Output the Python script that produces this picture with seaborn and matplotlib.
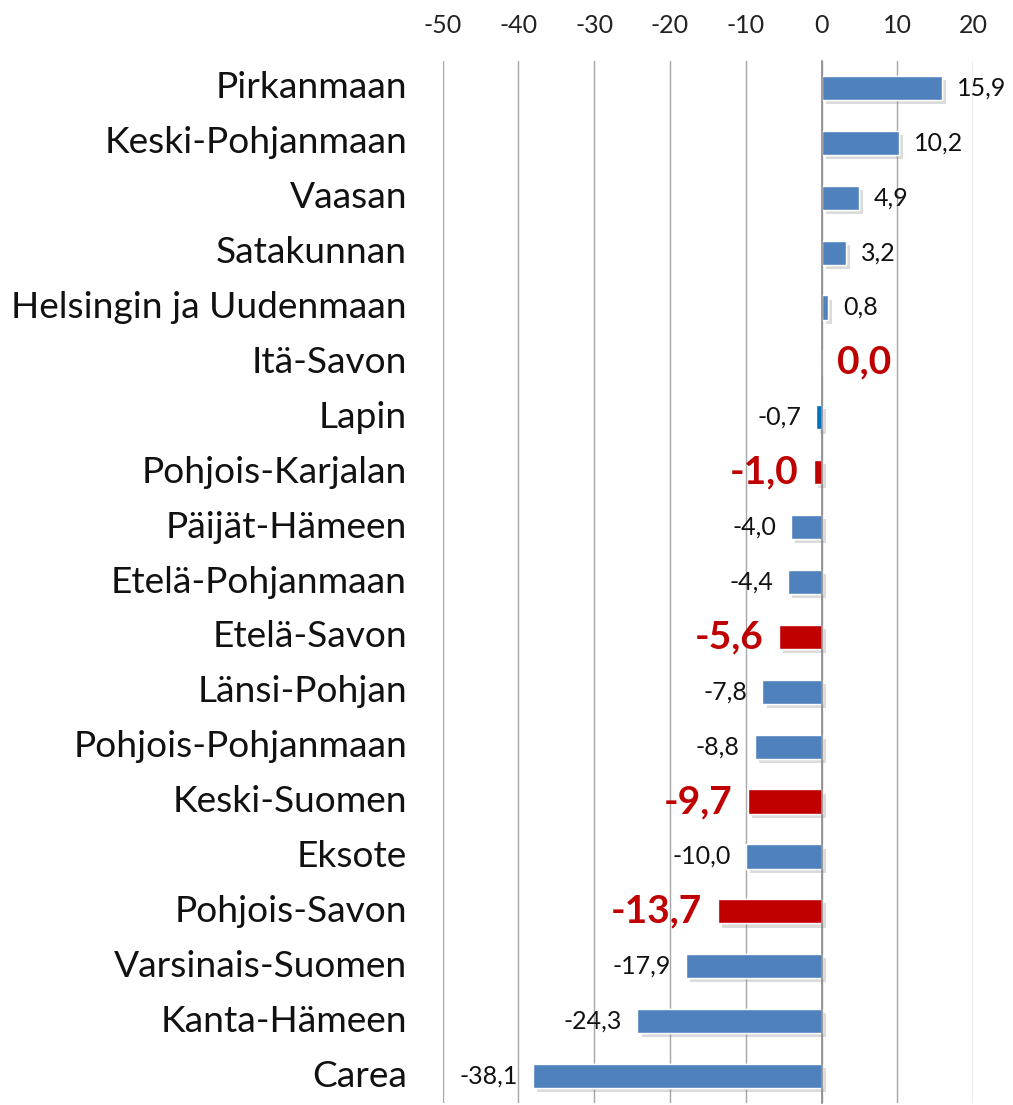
import numpy as np
import matplotlib
matplotlib.use("Agg")
import matplotlib.pyplot as plt
import matplotlib.patheffects as pe
import seaborn as sns

# chart data
regions = ["Pirkanmaan", "Keski-Pohjanmaan", "Vaasan", "Satakunnan",
           "Helsingin ja Uudenmaan", "Itä-Savon", "Lapin", "Pohjois-Karjalan",
           "Päijät-Hämeen", "Etelä-Pohjanmaan", "Etelä-Savon", "Länsi-Pohjan",
           "Pohjois-Pohjanmaan", "Keski-Suomen", "Eksote", "Pohjois-Savon",
           "Varsinais-Suomen", "Kanta-Hämeen", "Carea"]
values = [15.9, 10.2, 4.9, 3.2, 0.8, 0.0, -0.7, -1.0, -4.0, -4.4, -5.6,
          -7.8, -8.8, -9.7, -10.0, -13.7, -17.9, -24.3, -38.1]
highlighted = ["Itä-Savon", "Pohjois-Karjalan", "Etelä-Savon",
               "Keski-Suomen", "Pohjois-Savon"]
x_ticks = [-50, -40, -30, -20, -10, 0, 10, 20]

BLUE = "#4F81BD"
RED = "#C00000"
LAPIN = "#0070C0"

sns.set_theme(style="white")
plt.rcParams["font.family"] = ["Lato", "DejaVu Sans"]

colors = {}
for r in regions:
    if r in highlighted:
        colors[r] = RED
    elif r == "Lapin":
        colors[r] = LAPIN
    else:
        colors[r] = BLUE

fig = plt.figure(figsize=(10.13, 11.05), dpi=100)
ax = fig.add_axes([0.437, 0.0014, 0.524, 0.9438])

sns.barplot(x=values, y=regions, hue=regions, palette=colors, legend=False,
            width=0.44, orient="h", ax=ax, saturation=1)

for p in ax.patches:
    p.set_path_effects([pe.withSimplePatchShadow(offset=(3, -3), shadow_rgbFace="#888888", alpha=0.3),
                        pe.Normal()])

ax.set_xlim(-50, 20.05)
ax.set_ylim(len(regions) - 0.5, -0.5)
ax.set_xticks(x_ticks)
ax.set_xticklabels([str(t) for t in x_ticks])
ax.xaxis.tick_top()
ax.tick_params(axis="x", length=0, labelsize=18, colors="#222222", pad=17)
ax.grid(axis="x", color="#a6a6a6", linewidth=1)
ax.set_axisbelow(True)

for s in ["top", "right", "bottom"]:
    ax.spines[s].set_visible(False)
ax.spines["left"].set_position(("data", 0))
ax.spines["left"].set_color("#8c8c8c")
ax.spines["left"].set_linewidth(1.2)
ax.spines["left"].set_zorder(3)

ax.set_yticks(np.arange(len(regions)))
ax.set_yticklabels([])
ax.tick_params(axis="y", which="major", length=0)
ax.set_yticks(np.arange(len(regions) + 1) - 0.5, minor=True)
ax.tick_params(axis="y", which="minor", length=8, width=1.2, color="#8c8c8c", direction="out")
ax.set_xlabel("")
ax.set_ylabel("")

# category labels on the left
for i, r in enumerate(regions):
    ax.text(-0.067, i, r, transform=ax.get_yaxis_transform(), ha="right",
            va="center", fontsize=26.7, color="#111111")

# value labels
for i, (r, v) in enumerate(zip(regions, values)):
    txt = f"{v:.1f}".replace(".", ",")
    if r in highlighted:
        kw = dict(fontsize=28, fontweight="bold", color=RED)
    else:
        kw = dict(fontsize=18, color="#111111")
    if v >= 0:
        ax.annotate(txt, (v, i), xytext=(11, 0), textcoords="offset points",
                    ha="left", va="center", **kw)
    else:
        ax.annotate(txt, (v, i), xytext=(-11, 0), textcoords="offset points",
                    ha="right", va="center", **kw)

fig.savefig("out.png", dpi=100, facecolor="white")
